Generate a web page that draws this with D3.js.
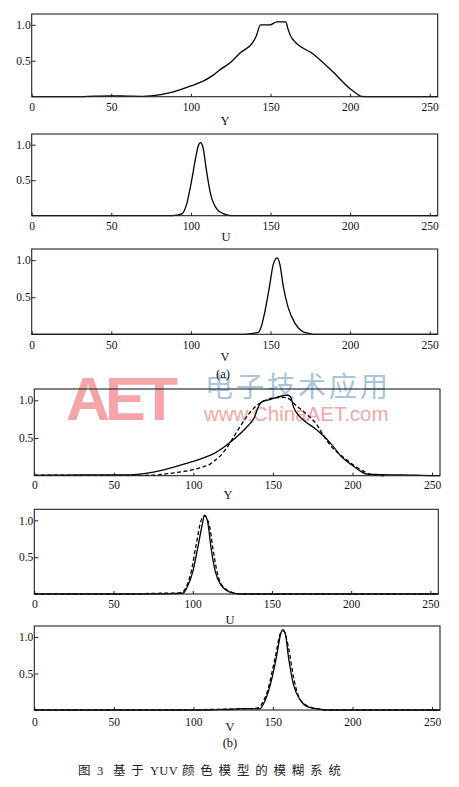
<!DOCTYPE html>
<html>
<head>
<meta charset="utf-8">
<script src="https://cdn.jsdelivr.net/npm/d3@7"></script>
<style>
  body { margin: 0; background: #fff; }
  svg { display: block; }
  .tick text { font-family: "Liberation Serif", serif; font-size: 11.5px; fill: #111; }
  .tick line { stroke: #222; stroke-width: 1; }
  .frame { fill: none; stroke: #222; stroke-width: 1.1; }
  .curve { fill: none; stroke: #000; stroke-width: 1.3; }
  .dashed { stroke-dasharray: 4,2.5; }
  .title { font-family: "Liberation Serif", serif; font-size: 12.5px; fill: #111; text-anchor: middle; }
</style>
</head>
<body>
<div id="chart"></div>
<script>
// tick values shared by all six panels
const xTicks = [0, 50, 100, 150, 200, 250];
const yTicks = [0.5, 1.0];

// (a) original membership curves: [level, membership]
const yOrig = [[0,0],[28,0],[40,0.008],[50,0.012],[60,0.008],[70,0.005],[75,0.012],[87,0.056],[100,0.15],[108,0.22],
  [114,0.30],[118,0.37],[125,0.48],[131,0.61],[139,0.76],[141,0.84],[143.7,1.0],[149.6,1.0],[154,1.04],[159.6,1.04],
  [161,0.94],[163.5,0.81],[177,0.59],[189,0.35],[200,0.11],[204,0.045],[207,0.005],[212,0],[255,0]];
const uOrig = [[0,0],[86,0],[91,0.008],[94.3,0.025],[97.4,0.17],[100.4,0.49],[103.1,0.83],[104.6,0.98],[106,1.03],
  [107.5,0.97],[109.8,0.63],[112.3,0.31],[116.1,0.10],[120.3,0.03],[124,0.005],[127,0],[255,0]];
const vOrig = [[0,0],[133,0],[138,0.01],[142.4,0.027],[143.8,0.08],[146.5,0.31],[149.2,0.625],[151.7,0.94],[154.2,1.03],
  [155.9,0.94],[158,0.65],[161.1,0.36],[165.3,0.15],[169.5,0.045],[174.7,0.008],[177,0],[255,0]];

// (b) solid = fitted, dashed = target
const yFit = [[0,0.005],[20,0.008],[40,0.012],[50,0.01],[60,0.012],[70,0.03],[80,0.07],[87,0.11],[95,0.16],[100,0.19],
  [108,0.25],[113.4,0.30],[118,0.36],[122.8,0.44],[128,0.53],[133.3,0.64],[138,0.76],[141.7,0.95],[143.9,0.99],
  [148,1.01],[152.3,1.04],[156,1.06],[159.6,1.07],[161.3,1.04],[162.8,0.92],[165,0.83],[169.1,0.74],[177.5,0.61],
  [187.9,0.39],[192.2,0.27],[198.4,0.16],[201.7,0.11],[205,0.06],[209,0.02],[217,0.015],[230,0.01],[240,0.006],[249,0.002],[255,0]];
const yTarget = [[0,0.008],[30,0.005],[60,0.003],[75,0.008],[85,0.03],[95,0.06],[100,0.08],[105,0.11],[110.3,0.15],
  [114,0.21],[117.7,0.28],[121,0.37],[124.9,0.5],[129,0.64],[133.4,0.78],[139.7,0.93],[144,0.99],[148.1,1.02],[152,1.035],
  [156.5,1.04],[160.7,1.01],[163,0.96],[167,0.89],[172,0.80],[177.5,0.68],[181,0.56],[185.8,0.41],[191,0.30],[196.3,0.21],
  [202,0.12],[206.9,0.06],[211,0.02],[215,0.005],[220,0]];
const uFit = [[0,0],[60,0],[85,0.003],[93.8,0.01],[97,0.12],[100,0.30],[103.1,0.62],[105.9,0.93],[107.5,1.07],[109.4,0.98],
  [111.6,0.62],[114.3,0.30],[117.9,0.12],[120.5,0.06],[123.1,0.03],[128.3,0.003],[132,0],[255,0]];
const uTarget = [[0,0],[64,0],[70,0.006],[80,0.01],[90,0.012],[93,0.02],[96,0.10],[99,0.30],[102.1,0.66],[105.3,1.0],
  [107.3,1.06],[110.5,0.93],[113,0.58],[115.7,0.27],[118.8,0.11],[124.1,0.03],[128,0.005],[131,0],[255,0]];
const vFit = [[0,0],[108,0],[115,0.005],[125,0.01],[132,0.02],[138,0.015],[142,0.02],[144.2,0.09],[148.3,0.34],[152.5,0.76],
  [154.6,1.02],[156.1,1.10],[157.8,1.04],[159.8,0.72],[163,0.34],[167.2,0.135],[172.4,0.04],[179.8,0.01],[184,0],[255,0]];
const vTarget = [[0,0],[102,0],[110,0.008],[120,0.01],[130,0.015],[137,0.02],[140.7,0.03],[143.5,0.10],[146.6,0.26],
  [151.4,0.72],[155,1.06],[156.8,1.08],[159.8,0.85],[163,0.44],[165.9,0.20],[171.2,0.06],[179.8,0.01],[183,0],[255,0]];

// caption pieces
const captionParts = [
    {text: '图', x: 78, cjk: true},
    {text: '3', x: 97, cjk: false},
    {text: '基于', x: 113, cjk: true},
    {text: 'YUV', x: 150, cjk: false},
    {text: '颜色模型的模糊系统', x: 182, cjk: true}
];

const width = 459, height = 787;
const svg = d3.select('#chart').append('svg')
    .attr('width', width)
    .attr('height', height);

// watermark (drawn first so the plots sit on top)
let wm = svg.append('g');
wm.append('text')
    .attr('x', 66).attr('y', 420)
    .attr('font-family', 'Liberation Sans, Arial, sans-serif')
    .attr('font-weight', 700)
    .attr('font-size', 61)
    .attr('letter-spacing', -5)
    .attr('fill', '#f5a4a7')
    .text('AET');
wm.append('text')
    .attr('x', 205).attr('y', 397)
    .attr('font-family', 'Noto Sans CJK SC')
    .attr('font-size', 28)
    .attr('letter-spacing', 3)
    .attr('fill', '#a9c5dd')
    .text('电子技术应用');
wm.append('text')
    .attr('x', 204).attr('y', 421)
    .attr('font-family', 'Liberation Sans, Arial, sans-serif')
    .attr('font-size', 20.5)
    .attr('fill', '#f6a5a8')
    .text('www.ChinaAET.com');

// panel layout
const panels = [
    {left: 31.7, right: 437.7, top: 14,    bottom: 96.7,  pad: 6.5, label: 'Y', labelY: 125, labelX: 225, lines: [yOrig]},
    {left: 31.7, right: 437.7, top: 134,   bottom: 215.7, pad: 6,   label: 'U', labelY: 241, labelX: 226, lines: [uOrig]},
    {left: 31.7, right: 437.7, top: 249,   bottom: 334.3, pad: 6.4, label: 'V', labelY: 361, labelX: 225, lines: [vOrig]},
    {left: 34.3, right: 440,   top: 389,   bottom: 475.7, pad: 5,   label: 'Y', labelY: 499, labelX: 228, lines: [yFit, yTarget]},
    {left: 34.3, right: 438.3, top: 509.3, bottom: 594,   pad: 5.7, label: 'U', labelY: 624, labelX: 230, lines: [uFit, uTarget]},
    {left: 34.3, right: 440,   top: 626,   bottom: 710,   pad: 7.5, label: 'V', labelY: 731, labelX: 230, lines: [vFit, vTarget]}
];

panels.forEach(function(p) {
    const x = d3.scaleLinear().domain([0, 255]).range([p.left, p.right]);
    const y = d3.scaleLinear().domain([0, 1.15]).range([p.bottom, p.top]);
    let g = svg.append('g');

    g.append('g')
        .attr('transform', 'translate(0,' + p.bottom + ')')
        .call(d3.axisBottom(x).tickValues(xTicks).tickSize(-3).tickPadding(p.pad).tickFormat(d3.format('d')))
        .call(a => a.select('.domain').remove());
    g.append('g')
        .attr('transform', 'translate(' + p.left + ',0)')
        .call(d3.axisLeft(y).tickValues(yTicks).tickSize(-4).tickPadding(1).tickFormat(d3.format('.1f')))
        .call(a => a.select('.domain').remove());

    const line = d3.line()
        .x(d => x(d[0]))
        .y(d => y(d[1]))
        .curve(d3.curveMonotoneX);
    p.lines.forEach(function(series, i) {
        g.append('path')
            .datum(series)
            .attr('class', i == 0 ? 'curve' : 'curve dashed')
            .attr('d', line);
    });

    g.append('rect')
        .attr('class', 'frame')
        .attr('x', p.left).attr('y', p.top)
        .attr('width', p.right - p.left)
        .attr('height', p.bottom - p.top);

    g.append('text')
        .attr('class', 'title')
        .attr('x', p.labelX).attr('y', p.labelY)
        .text(p.label);
});

// sub-figure marks and caption
svg.append('text').attr('class', 'title').attr('font-size', 14)
    .attr('x', 223).attr('y', 378).text('(a)');
svg.append('text').attr('class', 'title').attr('font-size', 14)
    .attr('x', 230).attr('y', 746.5).text('(b)');
let cap = svg.append('text')
    .attr('y', 775)
    .attr('font-size', 12.5)
    .attr('fill', '#222');
cap.selectAll('tspan').data(captionParts).join('tspan')
    .attr('x', d => d.x)
    .attr('font-family', d => d.cjk ? 'Noto Sans CJK SC' : 'Liberation Serif, serif')
    .attr('letter-spacing', d => d.cjk ? 5.8 : 0.3)
    .text(d => d.text);
</script>
</body>
</html>
